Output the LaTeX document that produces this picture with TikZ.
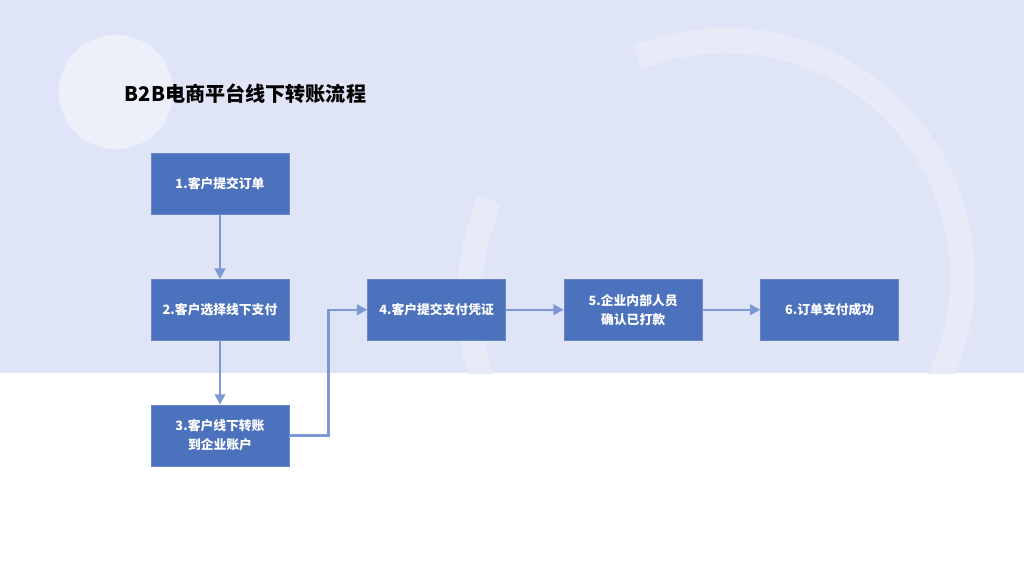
\documentclass[tikz,border=0pt]{standalone}
\usepackage{fontspec}
\setmainfont{Noto Sans CJK SC}
\usepackage{tikz}
\usetikzlibrary{arrows.meta,positioning}

\definecolor{bgblue}{RGB}{223,229,247}
\definecolor{softdisc}{RGB}{236,240,251}
\definecolor{ringcol}{RGB}{231,234,247}
\definecolor{boxblue}{RGB}{76,114,190}
\definecolor{arrblue}{RGB}{125,152,214}

\begin{document}
\begin{tikzpicture}[
    node distance=1.6cm and 1.45cm,
    stepbox/.style={rectangle, fill=boxblue, draw=boxblue!85!white, line width=0.4pt, align=center, minimum width=3.45cm, minimum height=1.53cm, inner sep=0pt, text=white, font=\bfseries\fontsize{9.1pt}{13.6pt}\selectfont},
    arr/.style={-{Triangle[length=2.6mm, width=2.6mm]}, line width=1.8pt, draw=arrblue},
    ring/.style={draw=ringcol, line width=0.625cm}
]
\useasboundingbox (0,0) rectangle (25.6,-14.4);
% background
\fill[white] (0,0) rectangle (25.6,-14.4);
\fill[bgblue] (0,0) rectangle (25.6,-9.325);
\fill[softdisc] (2.9,-2.3) circle (1.43);
\begin{scope}
  \clip (0,0) rectangle (25.6,-9.325);
  \coordinate (hub) at (18.15,-6.925);
  \draw[ring] ([shift={(112:5.9125)}]hub) arc (112:-40:5.9125);
  \coordinate (hubtwo) at (18.15,-7.5);
  \draw[ring] ([shift={(157:6.41)}]hubtwo) arc (157:205:6.41);
\end{scope}

\node[anchor=west, font=\bfseries\fontsize{14.3pt}{18pt}\selectfont] (title) at (3.0,-2.33) {B2B电商平台线下转账流程};

\node[stepbox] (order) at (5.5,-4.6) {1.客户提交订单};
\node[stepbox, below=of order] (choose) {2.客户选择线下支付};
\node[stepbox, below=of choose] (transfer) {3.客户线下转账\\到企业账户};
\node[stepbox, right=1.95cm of choose] (voucher) {4.客户提交支付凭证};
\node[stepbox, right=of voucher] (confirm) {5.企业内部人员\\确认已打款};
\node[stepbox, right=of confirm] (done) {6.订单支付成功};

\draw[arr] (order) -- (choose);
\draw[arr] (choose) -- (transfer);
\draw[arr] (transfer.east) -- ++(0.975,0) |- (voucher.west);
\draw[arr] (voucher) -- (confirm);
\draw[arr] (confirm) -- (done);
\end{tikzpicture}
\end{document}
